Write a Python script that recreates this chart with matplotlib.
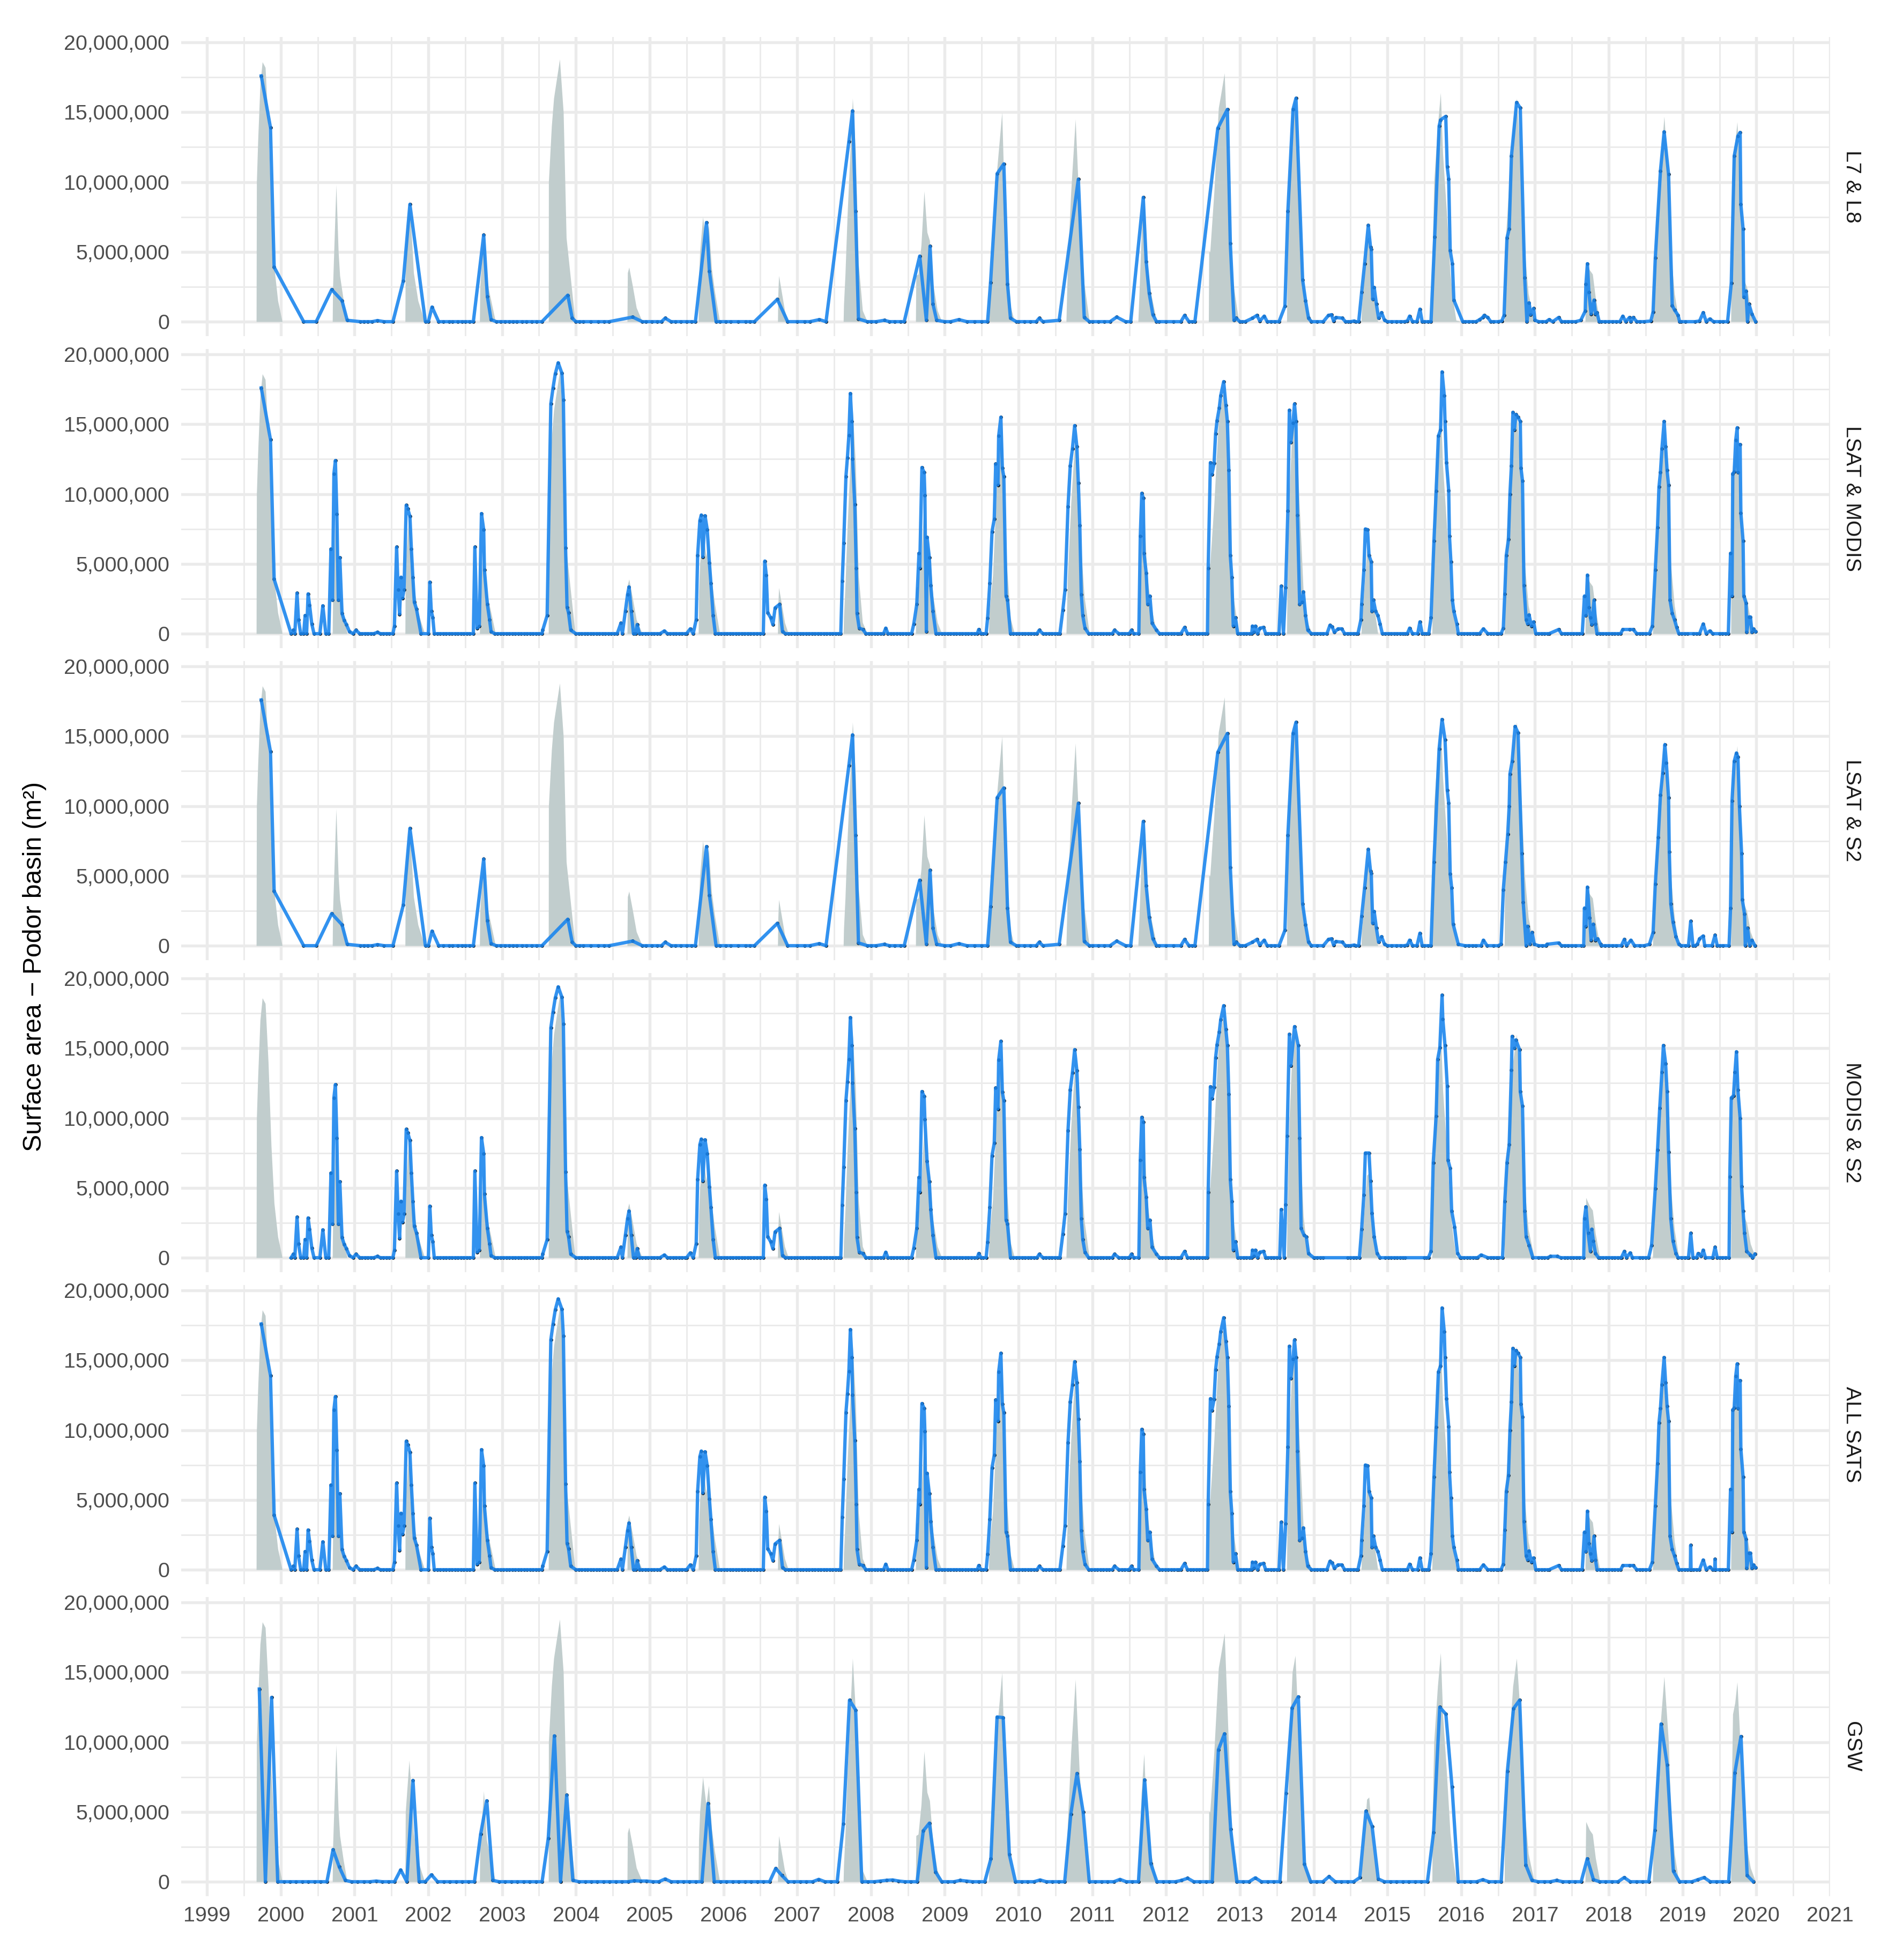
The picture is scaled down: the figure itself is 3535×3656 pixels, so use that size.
#!/usr/bin/env python

# Plotting.
import matplotlib
matplotlib.use('Agg')
import matplotlib.pyplot as plt
from matplotlib.ticker import FuncFormatter, MultipleLocator

plt.rcParams['font.family'] = ['Liberation Sans', 'DejaVu Sans']

# Dates are decimal years, values are millions of m2.

# In situ surface area, grey background of every panel.
insitu_x = [1999.668, 1999.672, 1999.69, 1999.72, 1999.75, 1999.79, 1999.83, 1999.87, 1999.91, 1999.96, 2000.02,
            2000.70, 2000.705, 2000.75, 2000.78, 2000.80, 2000.85, 2000.90,
            2001.685, 2001.69, 2001.74, 2001.78, 2001.80, 2001.86, 2001.95,
            2002.695, 2002.70, 2002.75, 2002.79, 2002.85, 2002.91,
            2003.628, 2003.63, 2003.67, 2003.70, 2003.78, 2003.83, 2003.87, 2003.93, 2003.99,
            2004.695, 2004.70, 2004.72, 2004.77, 2004.82, 2004.90,
            2005.66, 2005.665, 2005.68, 2005.72, 2005.765, 2005.80, 2005.84, 2005.88, 2005.95,
            2006.735, 2006.74, 2006.75, 2006.83, 2006.88,
            2007.625, 2007.63, 2007.65, 2007.68, 2007.75, 2007.79, 2007.83, 2007.885, 2007.95,
            2008.605, 2008.61, 2008.64, 2008.68, 2008.72, 2008.76, 2008.795, 2008.84, 2008.90, 2008.96,
            2009.595, 2009.60, 2009.65, 2009.705, 2009.775, 2009.82, 2009.89, 2009.945,
            2010.645, 2010.665, 2010.71, 2010.77, 2010.825, 2010.89, 2010.96,
            2011.62, 2011.635, 2011.665, 2011.70, 2011.74, 2011.795, 2011.865, 2011.89,
            2012.575, 2012.58, 2012.595, 2012.65, 2012.71, 2012.74, 2012.79, 2012.84, 2012.89, 2012.98, 2013.00,
            2013.635, 2013.64, 2013.67, 2013.71, 2013.75, 2013.80, 2013.86, 2013.90, 2013.98,
            2014.645, 2014.65, 2014.675, 2014.72, 2014.75, 2014.80, 2014.87,
            2015.605, 2015.61, 2015.63, 2015.68, 2015.72, 2015.75, 2015.80, 2015.85, 2015.89, 2015.93, 2016.00,
            2016.585, 2016.59, 2016.65, 2016.70, 2016.75, 2016.80, 2016.86, 2016.91, 2016.99,
            2017.68, 2017.69, 2017.74, 2017.78, 2017.82, 2017.88,
            2018.595, 2018.60, 2018.64, 2018.71, 2018.75, 2018.81, 2018.84, 2018.89, 2018.95,
            2019.655, 2019.66, 2019.68, 2019.71, 2019.74, 2019.78, 2019.83, 2019.87, 2019.92, 2019.99]
insitu_y = [0, 10, 13, 17, 18.6, 18.2, 14, 8, 3.9, 1.5, 0,
            0, 2.5, 9.8, 5, 3.3, 1.5, 0,
            0, 5, 8.7, 5.5, 3.5, 1.5, 0,
            0, 2.5, 6.5, 3, 1.5, 0,
            0, 10, 14, 16, 18.8, 15, 6, 3, 0,
            0, 3.5, 3.9, 2.5, 1, 0,
            0, 3, 5, 7.5, 5.5, 6.9, 3.8, 2.2, 0,
            0, 2, 3.3, 0.8, 0,
            0, 1.2, 3.4, 7.8, 16, 12.2, 4.15, 0.8, 0,
            0, 3.3, 3.4, 5.5, 9.35, 6.4, 5.8, 2.7, 0.8, 0,
            0, 1.4, 4.2, 10.8, 15, 6.4, 1.1, 0,
            0, 4.2, 9.3, 14.5, 7.8, 2.7, 0,
            0, 2, 6.4, 9.15, 4.2, 2, 0.2, 0,
            0, 5, 5, 9.3, 15.3, 16.2, 17.8, 10.8, 3.4, 0.2, 0,
            0, 3, 10, 15, 16.2, 10, 3, 1, 0,
            0, 1, 2.6, 5.9, 6.05, 2.6, 0,
            0, 5, 10, 14, 16.4, 12, 8, 3.5, 1.5, 0.1, 0,
            0, 5, 10, 14, 16, 12, 5, 2, 0,
            0, 4.3, 3.7, 3.4, 1.7, 0,
            0, 2, 7, 12, 14.7, 10, 5, 2, 0,
            0, 5, 12, 12.8, 14.3, 10, 3, 2.5, 1, 0]

# First three Landsat dates, shared by the panels that use Landsat.
head_x = [1999.735, 1999.86, 1999.91]
head_y = [17.6, 13.9, 3.9]

# Landsat only, up to mid 2015.
l7_x = [2000.31, 2000.48, 2000.69, 2000.83, 2000.90, 2001.08, 2001.31, 2001.52, 2001.66, 2001.75, 2001.96, 2002.0, 2002.05, 2002.14,
        2002.61, 2002.75, 2002.80, 2002.85, 2002.92, 2003.54, 2003.89, 2003.95, 2004.0, 2004.45, 2004.77, 2004.9,
        2005.16, 2005.21, 2005.29, 2005.62, 2005.77, 2005.81, 2005.90, 2006.42, 2006.73, 2006.87, 2007.17, 2007.30, 2007.39,
        2007.70, 2007.75, 2007.79, 2007.83, 2007.95, 2008.18, 2008.45, 2008.66, 2008.75, 2008.80, 2008.84, 2008.89,
        2009.19, 2009.58, 2009.62, 2009.71, 2009.80, 2009.85, 2009.89, 2009.97, 2010.24, 2010.28, 2010.33, 2010.55, 2010.81, 2010.89, 2010.96,
        2011.24, 2011.33, 2011.45, 2011.52, 2011.69, 2011.73, 2011.77, 2011.82, 2011.87, 2012.2, 2012.25, 2012.31, 2012.39,
        2012.7, 2012.83, 2012.87, 2012.92, 2012.95, 2013.07, 2013.17, 2013.23, 2013.27, 2013.33, 2013.37, 2013.53,
        2013.61, 2013.65, 2013.72, 2013.76, 2013.85, 2013.89, 2013.93, 2014.13, 2014.2, 2014.24, 2014.27, 2014.3, 2014.39, 2014.47, 2014.55,
        2014.61, 2014.65, 2014.69, 2014.74, 2014.77, 2014.78, 2014.8, 2014.82, 2014.85, 2014.88, 2014.92, 2014.96,
        2015.27, 2015.3, 2015.34, 2015.4, 2015.44, 2015.47]
l7_y = [0, 0, 2.3, 1.5, 0.1, 0, 0.08, 0, 2.9, 8.4, 0, 0, 1.05, 0,
        0, 6.2, 1.8, 0.15, 0, 0, 1.9, 0.25, 0, 0, 0.33, 0,
        0, 0.25, 0, 0, 7.1, 3.6, 0, 0, 1.6, 0, 0, 0.15, 0,
        12.9, 15.1, 7.9, 0.2, 0, 0.1, 0, 4.7, 0.1, 5.4, 1.25, 0.1,
        0.15, 0, 2.8, 10.6, 11.3, 2.7, 0.25, 0, 0, 0.25, 0, 0.1, 10.2, 0.3, 0,
        0, 0.33, 0, 0, 8.9, 4.3, 2.05, 0.5, 0, 0, 0.45, 0, 0,
        13.85, 15.2, 5.6, 0.1, 0.25, 0, 0.25, 0.45, 0.05, 0.4, 0, 0,
        1.1, 7.9, 15.2, 16.0, 3.0, 1.5, 0.25, 0, 0.45, 0.5, 0.05, 0.3, 0.25, 0, 0.05,
        0, 2.1, 4.15, 6.9, 5.35, 5.2, 1.6, 2.45, 1.25, 0.25, 0.65, 0.1,
        0.05, 0.4, 0, 0, 0.9, 0]

# Landsat dates with nothing flooded, up to mid 2015.
l7_dry_x = [2001.13, 2001.18, 2001.24, 2001.4, 2002.2, 2002.28, 2002.33, 2002.4, 2002.46, 2002.5, 2002.56,
            2002.98, 2003.04, 2003.1, 2003.15, 2003.2, 2003.27, 2003.33, 2003.4, 2003.47, 2004.05, 2004.1, 2004.2, 2004.3, 2004.38,
            2004.95, 2005.03, 2005.1, 2005.35, 2005.42, 2005.5, 2005.57, 2005.95, 2006.03, 2006.1, 2006.2, 2006.3, 2006.36,
            2007.0, 2007.1, 2008.0, 2008.07, 2008.25, 2008.32, 2008.4, 2009.0, 2009.08, 2009.3, 2009.4, 2009.5,
            2010.0, 2010.08, 2010.16, 2011.0, 2011.08, 2011.16, 2011.9, 2012.0, 2012.1, 2012.35, 2013.0, 2013.03, 2013.42, 2013.47,
            2013.97, 2014.05, 2014.43, 2014.5, 2014.57, 2015.0, 2015.06, 2015.12, 2015.18, 2015.23, 2015.5, 2015.55]

# Landsat dates with nothing flooded, after mid 2015.
tail_dry_x = [2016.05, 2016.1, 2016.15, 2016.2, 2016.44, 2016.5, 2017.05, 2017.1, 2017.15, 2017.4, 2017.45, 2017.5, 2017.55,
              2017.9, 2017.95, 2018.0, 2018.05, 2018.1, 2018.42, 2018.48, 2018.98, 2019.04, 2019.17, 2019.5, 2019.55]

# Landsat 7 and 8, after mid 2015.
l7_tail_x = [2015.59, 2015.64, 2015.7, 2015.72, 2015.79, 2015.81, 2015.83, 2015.85, 2015.88, 2015.9, 2016.02,
             2016.25, 2016.29, 2016.31, 2016.36, 2016.4, 2016.55, 2016.58, 2016.62, 2016.65, 2016.68, 2016.75, 2016.8, 2016.86,
             2016.89, 2016.92, 2016.94, 2016.98, 2017.0, 2017.19, 2017.24, 2017.32, 2017.36, 2017.62, 2017.68, 2017.69, 2017.71,
             2017.73, 2017.76, 2017.8, 2017.82, 2017.84, 2017.87, 2018.15, 2018.19, 2018.23, 2018.28, 2018.3, 2018.33, 2018.38,
             2018.57, 2018.6, 2018.63, 2018.7, 2018.75, 2018.81, 2018.86, 2018.89, 2018.94, 2018.96, 2019.23, 2019.28, 2019.32,
             2019.37, 2019.42, 2019.61, 2019.66, 2019.7, 2019.75, 2019.78, 2019.79, 2019.82, 2019.83, 2019.86, 2019.88, 2019.9, 2019.94, 2019.99]
l7_tail_y = [0, 6.05, 14, 14.45, 14.7, 11.1, 10.2, 5.1, 4.15, 1.55, 0,
             0.15, 0.3, 0.45, 0.3, 0, 0.05, 0.45, 6, 6.65, 11.85, 15.7, 15.3, 3.15,
             0, 1.35, 0.5, 0.95, 0.1, 0.15, 0, 0.3, 0, 0.1, 0.75, 2.7, 4.15,
             2.1, 0.55, 1.55, 0.55, 0.65, 0, 0, 0.4, 0, 0.3, 0, 0.3, 0,
             0.05, 0.7, 4.55, 10.8, 13.6, 10.55, 1.15, 0.85, 0.45, 0, 0.05, 0.65, 0,
             0.2, 0, 0, 2.75, 11.85, 13.3, 13.55, 8.4, 6.65, 1.75, 2.2, 0, 1.25, 0.55, 0]

# Landsat and Sentinel 2, after mid 2015.
s2_tail_x = [2015.59, 2015.63, 2015.7, 2015.74, 2015.78, 2015.81, 2015.83, 2015.85, 2015.87, 2015.89, 2015.96,
             2016.27, 2016.3, 2016.35, 2016.54, 2016.57, 2016.6, 2016.63, 2016.65, 2016.66, 2016.69, 2016.73, 2016.77, 2016.82, 2016.84,
             2016.88, 2016.9, 2016.93, 2016.96, 2016.99, 2017.16, 2017.32, 2017.36, 2017.63, 2017.66, 2017.67, 2017.69, 2017.71,
             2017.74, 2017.76, 2017.79, 2017.82, 2017.85, 2017.89, 2018.17, 2018.21, 2018.24, 2018.3, 2018.35, 2018.55, 2018.6, 2018.63,
             2018.67, 2018.7, 2018.73, 2018.76, 2018.78, 2018.81, 2018.82, 2018.84, 2018.87, 2018.91, 2018.95, 2019.08, 2019.11, 2019.14,
             2019.2, 2019.23, 2019.28, 2019.3, 2019.4, 2019.44, 2019.47, 2019.63, 2019.65, 2019.67, 2019.7, 2019.73, 2019.75, 2019.77,
             2019.8, 2019.81, 2019.84, 2019.85, 2019.88, 2019.91, 2019.94, 2019.98]
s2_tail_y = [0, 6, 14.1, 16.2, 14.75, 11.15, 10.2, 5.15, 4.15, 1.55, 0.1,
             0, 0.4, 0, 0.1, 4, 6, 8, 10, 12.3, 13.2, 15.7, 15.25, 6.6, 3.1,
             0, 1.4, 0.1, 0.95, 0.1, 0.1, 0.2, 0, 0, 0, 2.7, 1.4, 4.2,
             2, 0.4, 1.55, 0.4, 0.5, 0.1, 0, 0.45, 0, 0.4, 0, 0.1, 0.95, 4.4,
             7.75, 10.8, 12.35, 14.4, 13.1, 10.6, 6.7, 3, 1.7, 0.65, 0.1, 0, 1.75, 0,
             0.1, 0.5, 0.7, 0, 0, 0.75, 0, 0, 2.7, 10.35, 13.2, 13.8, 13.5, 10,
             6.6, 3.3, 2.25, 0, 1.25, 0, 0.4, 0]

# MODIS with Landsat, 2000 to mid 2013.
modis_x = [2000.14, 2000.17, 2000.19, 2000.22, 2000.24, 2000.27, 2000.31, 2000.33, 2000.35, 2000.37, 2000.39, 2000.42, 2000.45, 2000.53, 2000.57, 2000.61, 2000.65,
           2000.68, 2000.7, 2000.72, 2000.74, 2000.76, 2000.78, 2000.8, 2000.83, 2000.86, 2000.89, 2000.93, 2000.98, 2001.02, 2001.07, 2001.31, 2001.52,
           2001.54, 2001.57, 2001.59, 2001.61, 2001.63, 2001.65, 2001.67, 2001.7, 2001.72, 2001.75, 2001.77, 2001.79, 2001.81, 2001.84, 2001.9, 2002.0,
           2002.02, 2002.04, 2002.06, 2002.08, 2002.61, 2002.63, 2002.66, 2002.69, 2002.72, 2002.75, 2002.76, 2002.8, 2002.83, 2002.85, 2002.9, 2003.54,
           2003.55, 2003.61, 2003.66, 2003.69, 2003.72, 2003.76, 2003.81, 2003.83, 2003.86, 2003.88, 2003.9, 2003.93, 2004.0, 2004.56,
           2004.61, 2004.63, 2004.67, 2004.7, 2004.72, 2004.75, 2004.78, 2004.81, 2004.83, 2004.86, 2005.2, 2005.5, 2005.55, 2005.59,
           2005.63, 2005.65, 2005.68, 2005.7, 2005.72, 2005.75, 2005.78, 2005.81, 2005.83, 2005.86, 2005.89, 2006.54,
           2006.56, 2006.58, 2006.6, 2006.64, 2006.67, 2006.7, 2006.76, 2006.8, 2007.59,
           2007.61, 2007.63, 2007.66, 2007.68, 2007.7, 2007.72, 2007.74, 2007.75, 2007.78, 2007.8, 2007.81, 2007.84, 2007.89, 2007.93, 2008.2, 2008.23, 2008.55,
           2008.58, 2008.62, 2008.65, 2008.66, 2008.69, 2008.72, 2008.73, 2008.75, 2008.76, 2008.79, 2008.81, 2008.84, 2008.88, 2009.46, 2009.49, 2009.56,
           2009.58, 2009.61, 2009.64, 2009.67, 2009.69, 2009.72, 2009.73, 2009.76, 2009.78, 2009.8, 2009.83, 2009.85, 2009.89, 2010.28, 2010.33, 2010.56,
           2010.6, 2010.63, 2010.67, 2010.7, 2010.73, 2010.76, 2010.79, 2010.81, 2010.83, 2010.85, 2010.87, 2010.9, 2010.95, 2011.3, 2011.36, 2011.53, 2011.56, 2011.63,
           2011.65, 2011.67, 2011.69, 2011.7, 2011.73, 2011.75, 2011.78, 2011.81, 2011.87, 2011.91, 2012.2, 2012.25, 2012.29, 2012.56,
           2012.57, 2012.6, 2012.62, 2012.65, 2012.67, 2012.69, 2012.72, 2012.74, 2012.78, 2012.81, 2012.83, 2012.85, 2012.87, 2012.89, 2012.91, 2012.94, 2012.97,
           2013.16, 2013.17, 2013.19, 2013.21, 2013.24, 2013.27, 2013.32, 2013.35]
modis_y = [0, 0.25, 0, 2.9, 1, 0, 0, 1.3, 0, 2.85, 2.05, 0.7, 0, 0, 2, 0, 0,
           6.05, 2.4, 11.45, 12.4, 8.55, 2.4, 5.45, 1.45, 0.95, 0.65, 0.15, 0, 0.25, 0, 0.1, 0,
           0.55, 6.2, 3.15, 1.4, 4.05, 2.55, 3.15, 9.2, 8.95, 8.4, 6.05, 4.05, 2.25, 1.75, 0, 0,
           3.7, 1.6, 1.15, 0, 0, 6.2, 0.4, 0.55, 8.6, 7.45, 4.55, 2.1, 1, 0.15, 0, 0,
           0.25, 1.3, 16.45, 17.6, 18.6, 19.4, 18.65, 16.75, 6.15, 1.9, 1.5, 0.25, 0, 0,
           0.75, 0, 1.6, 2.8, 3.35, 1.6, 0, 0, 0.65, 0, 0.2, 0, 0.35, 0,
           1, 5.6, 8.1, 8.5, 5.5, 8.45, 7.45, 5.05, 3.6, 1.3, 0, 0,
           5.2, 4.2, 1.5, 1.15, 0.65, 1.85, 2.1, 0.15, 0,
           3.75, 6.5, 11.25, 12.6, 14.2, 17.2, 15.2, 12.5, 9.25, 4.7, 1.45, 0.4, 0.3, 0, 0.4, 0, 0,
           0.7, 2.1, 5.75, 4.7, 11.9, 11.55, 9.9, 0.15, 6.9, 5.45, 3.45, 1.6, 0, 0.3, 0, 0,
           1.1, 3.6, 7.3, 8.2, 12.15, 10.65, 14.15, 15.5, 11.85, 11.25, 2.7, 2.4, 0, 0.25, 0, 0,
           1.7, 3.15, 9.1, 12, 13.25, 14.9, 13.4, 10.8, 7.75, 2.8, 1.3, 0.4, 0, 0.25, 0, 0.25, 0, 0,
           7, 10.05, 9.7, 5.75, 4.35, 2.1, 2.7, 0.75, 0.25, 0, 0, 0.45, 0, 0,
           4.7, 12.25, 11.4, 12.2, 14.3, 15.25, 16.15, 17.05, 18.05, 16.35, 15.2, 11.7, 5.6, 4.05, 0.55, 1.15, 0,
           0, 0.55, 0.1, 0.55, 0, 0.4, 0.45, 0]

# MODIS with Landsat, mid 2013 onward.
modis_tail_x = [2013.53, 2013.56, 2013.59, 2013.62, 2013.65, 2013.67, 2013.69, 2013.72, 2013.74, 2013.76, 2013.78, 2013.81, 2013.84, 2013.86, 2013.89, 2013.92, 2013.97,
                2014.18, 2014.22, 2014.25, 2014.28, 2014.33, 2014.38, 2014.42, 2014.6,
                2014.64, 2014.65, 2014.68, 2014.7, 2014.73, 2014.75, 2014.78, 2014.79, 2014.81, 2014.84, 2014.87, 2014.9, 2014.93, 2015.27, 2015.3, 2015.34, 2015.41, 2015.44, 2015.47, 2015.56,
                2015.59, 2015.63, 2015.66, 2015.69, 2015.72, 2015.74, 2015.77, 2015.78, 2015.8, 2015.83, 2015.84, 2015.86, 2015.88, 2015.9, 2015.94, 2015.96, 2016.25, 2016.3, 2016.36, 2016.54, 2016.57,
                2016.59, 2016.61, 2016.64, 2016.66, 2016.68, 2016.7, 2016.72, 2016.74, 2016.77, 2016.8, 2016.81, 2016.83, 2016.85, 2016.88, 2016.9, 2016.92, 2016.95, 2016.98, 2017.01,
                2017.19, 2017.32, 2017.36, 2017.64, 2017.67, 2017.69, 2017.71, 2017.73, 2017.75, 2017.77, 2017.8, 2017.82, 2017.84, 2018.19, 2018.28, 2018.33, 2018.38, 2018.55,
                2018.59, 2018.63, 2018.66, 2018.68, 2018.7, 2018.72, 2018.75, 2018.77, 2018.79, 2018.81, 2018.83, 2018.86, 2018.89, 2018.92, 2018.95, 2019.23, 2019.28, 2019.32, 2019.37, 2019.62,
                2019.65, 2019.67, 2019.68, 2019.7, 2019.72, 2019.74, 2019.75, 2019.78, 2019.79, 2019.82, 2019.83, 2019.86, 2019.87, 2019.9, 2019.92, 2019.94, 2019.96, 2019.99]
modis_tail_y = [0, 3.4, 0, 3.3, 8.8, 16, 13.7, 15.1, 16.45, 15.2, 8.5, 2.1, 2.25, 3, 1.3, 0.25, 0,
                0, 0.6, 0.5, 0.1, 0.35, 0.35, 0, 0,
                1, 2.1, 4.55, 7.5, 7.45, 5.6, 5.15, 1.6, 2.4, 1.6, 1.3, 0.7, 0, 0, 0.4, 0, 0, 0.85, 0, 0,
                1.15, 6.65, 10.2, 14.15, 14.6, 18.75, 17.05, 15.2, 12.25, 10.25, 7, 5.15, 2.4, 1.6, 0.7, 0, 0, 0.35, 0, 0, 0.4,
                2.85, 5.6, 6.75, 10, 12, 15.85, 14.6, 15.7, 15.5, 15.2, 11.85, 10.95, 3.45, 1, 0.7, 1.35, 0.55, 0.85, 0,
                0, 0.3, 0, 0, 2.7, 1.3, 4.2, 1.9, 1.15, 0.65, 2.4, 0.7, 0, 0.3, 0.3, 0.3, 0, 0,
                0.55, 4.55, 7.6, 10.5, 11.55, 13.25, 15.2, 13.4, 11.7, 10.65, 2.4, 1.45, 1, 0.45, 0, 0, 0.7, 0, 0.2, 0,
                5.75, 2.7, 11.45, 11.6, 13.85, 14.75, 11.55, 13.55, 8.65, 6.65, 2.7, 2.2, 0.1, 1.2, 1.2, 0.1, 0.35, 0.15]

# MODIS and Sentinel 2, mid 2013 onward.
ms2_tail_x = [2013.54, 2013.56, 2013.6, 2013.62, 2013.64, 2013.67, 2013.69, 2013.74, 2013.79, 2013.81, 2013.83, 2013.87, 2013.9, 2013.93, 2014.0, 2014.62,
              2014.65, 2014.68, 2014.7, 2014.75, 2014.77, 2014.79, 2014.82, 2014.86, 2014.9, 2015.555,
              2015.59, 2015.62, 2015.66, 2015.68, 2015.71, 2015.74, 2015.75, 2015.78, 2015.81, 2015.82, 2015.85, 2015.87, 2015.91, 2015.95, 2015.99, 2016.27, 2016.36, 2016.56,
              2016.59, 2016.62, 2016.65, 2016.68, 2016.69, 2016.72, 2016.74, 2016.79, 2016.8, 2016.83, 2016.86, 2016.88, 2016.92, 2016.97, 2017.21, 2017.3, 2017.35, 2017.66,
              2017.67, 2017.69, 2017.72, 2017.75, 2017.77, 2017.79, 2017.82, 2017.86, 2018.17, 2018.21, 2018.24, 2018.29, 2018.32, 2018.54,
              2018.58, 2018.63, 2018.66, 2018.69, 2018.72, 2018.74, 2018.77, 2018.79, 2018.81, 2018.84, 2018.87, 2018.91, 2018.94, 2019.08, 2019.11, 2019.14,
              2019.21, 2019.25, 2019.28, 2019.31, 2019.4, 2019.44, 2019.47, 2019.63, 2019.64, 2019.66, 2019.69, 2019.71, 2019.73, 2019.75, 2019.78, 2019.8, 2019.82, 2019.84, 2019.87, 2019.92, 2019.95, 2019.98]
ms2_tail_y = [0, 3.45, 0, 3.8, 8.7, 16, 13.75, 16.55, 15.2, 8.55, 2.1, 1.6, 1.5, 0.3, 0, 0,
              2.05, 4.5, 7.5, 7.5, 5.5, 3.2, 1.5, 0.3, 0, 0,
              0.45, 6.8, 10.15, 14.2, 15.05, 18.8, 17.1, 15.2, 12.3, 7, 6.4, 3.35, 2.2, 0.3, 0, 0.2, 0, 0,
              4.05, 6.8, 8.1, 13.45, 15.85, 15, 15.6, 14.9, 11.9, 10.85, 3.35, 1.5, 0.9, 0, 0.1, 0.1, 0, 0,
              2.8, 3.65, 1.75, 0.45, 2.05, 1.2, 0.3, 0, 0, 0.45, 0, 0.35, 0, 0,
              0.9, 4.95, 7.7, 10.7, 13.3, 15.2, 13.9, 11.9, 7.55, 2.8, 1.2, 0.3, 0, 0, 1.75, 0,
              0.3, 0.1, 0.55, 0, 0, 0.75, 0, 0, 5.8, 11.45, 11.6, 13.3, 14.75, 12, 10, 5.1, 3.35, 1.75, 0.45, 0.2, 0, 0.25]

# Eight day MODIS dates with nothing flooded.
modis_dry_x = [2001.1, 2001.14, 2001.18, 2001.22, 2001.26, 2001.35, 2001.39, 2001.43, 2001.47,
               2002.12, 2002.16, 2002.2, 2002.24, 2002.28, 2002.32, 2002.36, 2002.4, 2002.44, 2002.48, 2002.52, 2002.56,
               2002.94, 2002.98, 2003.02, 2003.06, 2003.1, 2003.14, 2003.18, 2003.22, 2003.26, 2003.3, 2003.34, 2003.38, 2003.42, 2003.46, 2003.5,
               2004.04, 2004.08, 2004.12, 2004.16, 2004.2, 2004.24, 2004.28, 2004.32, 2004.36, 2004.4, 2004.44, 2004.48, 2004.52,
               2004.9, 2004.94, 2004.98, 2005.02, 2005.06, 2005.1, 2005.14, 2005.24, 2005.28, 2005.32, 2005.36, 2005.4, 2005.44, 2005.48,
               2005.93, 2005.97, 2006.01, 2006.05, 2006.09, 2006.13, 2006.17, 2006.21, 2006.25, 2006.29, 2006.33, 2006.37, 2006.41, 2006.45, 2006.5,
               2006.84, 2006.88, 2006.92, 2006.96, 2007.0, 2007.04, 2007.08, 2007.12, 2007.16, 2007.2, 2007.24, 2007.28, 2007.32, 2007.36, 2007.4, 2007.44, 2007.48, 2007.52, 2007.56,
               2007.97, 2008.01, 2008.05, 2008.09, 2008.13, 2008.17, 2008.27, 2008.31, 2008.35, 2008.39, 2008.43, 2008.47, 2008.51,
               2008.92, 2008.96, 2009.0, 2009.04, 2009.08, 2009.12, 2009.16, 2009.2, 2009.24, 2009.28, 2009.32, 2009.36, 2009.4, 2009.44, 2009.52,
               2009.93, 2009.97, 2010.01, 2010.05, 2010.09, 2010.13, 2010.17, 2010.21, 2010.25, 2010.37, 2010.41, 2010.45, 2010.49, 2010.53,
               2010.99, 2011.03, 2011.07, 2011.11, 2011.15, 2011.19, 2011.23, 2011.27, 2011.4, 2011.44, 2011.48, 2011.5,
               2011.95, 2011.99, 2012.03, 2012.07, 2012.11, 2012.15, 2012.17, 2012.33, 2012.37, 2012.41, 2012.45, 2012.49, 2012.53,
               2013.01, 2013.05, 2013.09, 2013.13, 2013.38, 2013.42, 2013.46, 2013.5,
               2014.01, 2014.05, 2014.09, 2014.13, 2014.46, 2014.5, 2014.54, 2014.58,
               2014.97, 2015.01, 2015.05, 2015.09, 2015.13, 2015.17, 2015.21, 2015.24, 2015.5, 2015.53,
               2016.0, 2016.04, 2016.08, 2016.12, 2016.16, 2016.2, 2016.22, 2016.4, 2016.44, 2016.48, 2016.5,
               2017.05, 2017.09, 2017.13, 2017.17, 2017.4, 2017.44, 2017.48, 2017.52, 2017.56, 2017.6,
               2017.88, 2017.92, 2017.96, 2018.0, 2018.04, 2018.08, 2018.12, 2018.16, 2018.42, 2018.46, 2018.5,
               2018.99, 2019.03, 2019.07, 2019.15, 2019.19, 2019.41, 2019.5, 2019.54, 2019.58]

# Points that only show up when every sensor is pooled.
all_extra_x = [2019.105, 2019.11, 2019.115, 2019.435, 2019.44, 2019.445]
all_extra_y = [0, 1.75, 0, 0, 0.75, 0]

# GSW monthly values, one row per year from 2000, twelve months each.
gsw_1999 = [13.8, 0, 13.2, 0]
gsw_rows = [[0, 0, 0, 0, 0, 0, 0, 0, 2.3, 1.07, 0.1, 0],
            [0, 0, 0, 0.05, 0, 0, 0, 0.85, 0, 7.25, 0, 0],
            [0.5, 0, 0, 0, 0, 0, 0, 0, 3.4, 5.8, 0.1, 0],
            [0, 0, 0, 0, 0, 0, 0, 3.1, 10.45, 0, 6.2, 0.1],
            [0, 0, 0, 0, 0, 0, 0, 0, 0, 0.07, 0.05, 0.05],
            [0, 0, 0.2, 0, 0, 0, 0, 0, 0, 5.6, 0, 0],
            [0, 0, 0, 0, 0, 0, 0, 0, 0.95, 0.45, 0, 0],
            [0, 0, 0, 0.17, 0, 0, 0, 4.15, 13, 12.3, 0, 0],
            [0, 0.05, 0.1, 0.13, 0.05, 0, 0, 0, 3.65, 4.2, 0.7, 0],
            [0, 0, 0.1, 0.05, 0, 0, 0, 1.65, 11.8, 11.75, 1.95, 0],
            [0, 0, 0, 0.13, 0, 0, 0, 0, 4.85, 7.75, 5, 0],
            [0, 0, 0, 0, 0.17, 0, 0, 0, 7.3, 1.3, 0, 0],
            [0, 0, 0.1, 0.25, 0, 0, 0, 0, 9.45, 10.6, 3.75, 0],
            [0, 0, 0.28, 0, 0, 0, 0, 6.35, 12.45, 13.25, 1.25, 0],
            [0, 0, 0.37, 0, 0, 0, 0, 0.3, 5.05, 3.97, 0.2, 0],
            [0, 0, 0, 0, 0, 0, 0, 3.55, 12.5, 12, 6.8, 0],
            [0, 0, 0, 0.15, 0, 0, 0, 7.9, 12.4, 13, 1.2, 0.1],
            [0, 0, 0, 0.1, 0, 0, 0, 0, 1.65, 0.15, 0, 0],
            [0, 0, 0.3, 0, 0, 0, 0, 3.7, 11.3, 8.35, 0.75, 0],
            [0, 0, 0.15, 0.3, 0, 0, 0, 0, 7.8, 10.4, 0.45, 0]]

gsw_x = [1999 + (m + 0.5) / 12 for m in [8, 9, 10, 11]]
gsw_y = list(gsw_1999)
for i, row in enumerate(gsw_rows):
    gsw_x += [2000 + i + (m + 0.5) / 12 for m in range(12)]
    gsw_y += row


def merged(xs, ys, dry_x):
    # Put the dry dates in with the other observations, in date order.
    pairs = sorted(list(zip(xs, ys)) + [(x, 0) for x in dry_x])
    return [p[0] for p in pairs], [p[1] for p in pairs]


# MODIS and S2 misses the sharp dip in 2008.
ms2_early = [(x, y) for x, y in zip(modis_x, modis_y) if x != 2008.75 and x < 2013.5]
ms2_x = [p[0] for p in ms2_early] + ms2_tail_x
ms2_y = [p[1] for p in ms2_early] + ms2_tail_y

l7_panel = merged(head_x + l7_x + l7_tail_x, head_y + l7_y + l7_tail_y, l7_dry_x + tail_dry_x)
s2_panel = merged(head_x + l7_x + s2_tail_x, head_y + l7_y + s2_tail_y, l7_dry_x + tail_dry_x)
modis_panel = merged(head_x + modis_x + modis_tail_x, head_y + modis_y + modis_tail_y, modis_dry_x)
ms2_panel = merged(ms2_x, ms2_y, modis_dry_x)
all_panel = merged(head_x + modis_x + modis_tail_x + all_extra_x, head_y + modis_y + modis_tail_y + all_extra_y, modis_dry_x)

panels = [('L7 & L8', l7_panel[0], l7_panel[1]),
          ('LSAT & MODIS', modis_panel[0], modis_panel[1]),
          ('LSAT & S2', s2_panel[0], s2_panel[1]),
          ('MODIS & S2', ms2_panel[0], ms2_panel[1]),
          ('ALL SATS', all_panel[0], all_panel[1]),
          ('GSW', gsw_x, gsw_y)]

year_ticks = list(range(1999, 2022))

# Create new figure, sizes in pixels at 300 dpi.
W, H = 3535, 3656
fig = plt.figure(figsize=(W / 300, H / 300), dpi=300)

for i, (name, xs, ys) in enumerate(panels):
    top = 69 + 582 * i
    ax = fig.add_axes([338 / W, 1 - (top + 558) / H, 3076 / W, 558 / H])

    # In situ area, then points, then the line on top.
    ax.fill_between(insitu_x, [v * 1e6 for v in insitu_y], 0, color='#C1CDCD', lw=0, zorder=2)
    ax.plot(xs, [v * 1e6 for v in ys], ls='none', marker='o', ms=1.6, mew=0, color='black', zorder=3)
    ax.plot(xs, [v * 1e6 for v in ys], color='#1C86EE', alpha=0.9, lw=1.5, solid_joinstyle='round', zorder=4)

    ax.set_xlim(1998.65, 2021)
    ax.set_ylim(-1.036e6, 20.384e6)

    # Theme: white background, grey grid, no frame and no tick marks.
    ax.set_xticks(year_ticks)
    ax.xaxis.set_minor_locator(MultipleLocator(0.5))
    ax.yaxis.set_major_locator(MultipleLocator(5e6))
    ax.yaxis.set_minor_locator(MultipleLocator(2.5e6))
    ax.yaxis.set_major_formatter(FuncFormatter(lambda v, p: f'{v:,.0f}'))
    ax.grid(which='major', color='#EBEBEB', lw=1.3, zorder=0)
    ax.grid(which='minor', color='#EBEBEB', lw=0.7, zorder=0)
    ax.set_axisbelow(True)
    for s in ax.spines.values():
        s.set_visible(False)
    ax.tick_params(which='both', length=0)
    ax.tick_params(axis='y', labelsize=9.45, labelcolor='#4D4D4D', pad=5.3)
    ax.tick_params(axis='x', labelsize=9.45, labelcolor='#4D4D4D', pad=4.5, labelbottom=i == len(panels) - 1)

    # Panel name on the right.
    fig.text(3454 / W, 1 - (top + 279) / H, name, rotation=-90, ha='center', va='center',
             fontsize=9.45, color='#1A1A1A')

# Axis label.
fig.text(65 / W, 1 - 1803 / H, 'Surface area \u2212 Podor basin (m\u00b2)', rotation=90, ha='center', va='center',
         fontsize=11.6, color='black')

# Save figure.
fig.savefig('out.png', dpi=300)
